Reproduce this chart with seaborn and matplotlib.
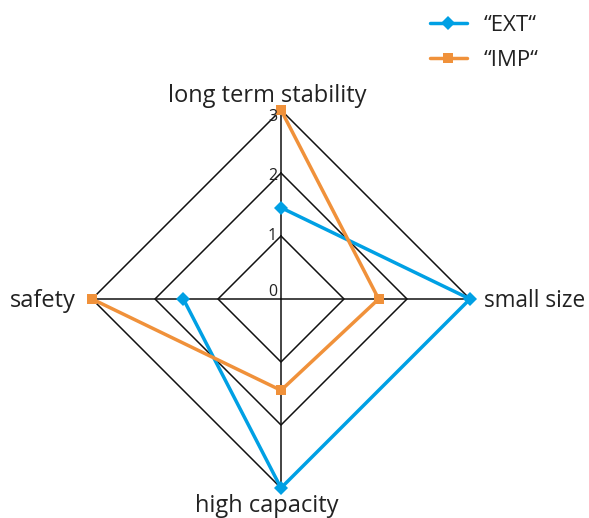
import numpy as np
import pandas as pd
import matplotlib
matplotlib.use("Agg")
import matplotlib.pyplot as plt
import matplotlib.transforms as mtransforms
from matplotlib.lines import Line2D
import seaborn as sns

categories = ["long term stability", "small size", "high capacity", "safety"]
ext_values = [1.45, 3.0, 3.0, 1.55]
imp_values = [3.0, 1.55, 1.45, 3.0]
series_names = ["\u201cEXT\u201c", "\u201cIMP\u201c"]
levels = [0, 1, 2, 3]

sns.set_theme(style="white")
plt.rcParams["font.family"] = ["Open Sans", "DejaVu Sans"]

fig = plt.figure(figsize=(5.89, 5.18), dpi=100)
ax = fig.add_axes([92/589, 30/518, 378/589, 378/518], projection="polar")
ax.set_theta_zero_location("N")
ax.set_theta_direction(-1)
ax.set_ylim(0, 3)
ax.grid(False)
ax.set_xticks([])
ax.set_yticks([])
ax.spines["polar"].set_visible(False)
ax.set_facecolor("none")

n = len(categories)
angles = np.arange(n) * 2 * np.pi / n
closed_angles = np.append(angles, angles[0])

# diamond grid
for lv in levels[1:]:
    ax.plot(closed_angles, [lv] * (n + 1), color="#111111", lw=1.1, zorder=1)
for a in angles:
    ax.plot([a, a], [0, levels[-1]], color="#111111", lw=1.1, zorder=1)

rows = []
for name, vals in zip(series_names, [ext_values, imp_values]):
    vv = list(vals) + [vals[0]]
    for i, (a, v) in enumerate(zip(closed_angles, vv)):
        rows.append({"series": name, "angle": a, "value": v, "order": i})
df = pd.DataFrame(rows)

colors = {series_names[0]: "#00a0e4", series_names[1]: "#f0913a"}
markers = {series_names[0]: "D", series_names[1]: "s"}
msize = {series_names[0]: 7.5, series_names[1]: 7}
for name in series_names:
    sub = df[df["series"] == name]
    sns.lineplot(data=sub, x="angle", y="value", sort=False, ax=ax,
                 color=colors[name], lw=2.5, marker=markers[name],
                 markersize=msize[name], markeredgewidth=0,
                 clip_on=False, zorder=3, legend=False)

# radial tick labels
for lv, dy in zip(levels, [7, 0, -3, -7]):
    tr = ax.transData + mtransforms.ScaledTranslation(-4/100, dy/100, fig.dpi_scale_trans)
    ax.text(0, lv, str(lv), transform=tr, ha="right", va="center",
            fontsize=11.5, color="#222222")

# category labels
label_specs = [
    (0, "center", "baseline", -14, 8, 17),
    (1, "left", "baseline", 14, -8, 16.3),
    (2, "center", "baseline", -14, -24, 17),
    (3, "right", "baseline", -16, -8, 17),
]
for idx, ha, va, dx, dy, fs in label_specs:
    tr = ax.transData + mtransforms.ScaledTranslation(dx/100, dy/100, fig.dpi_scale_trans)
    ax.text(angles[idx], levels[-1], categories[idx], transform=tr, ha=ha, va=va,
            fontsize=fs, color="#222222")

handles = [Line2D([], [], color=colors[nm], lw=2.5, marker=markers[nm],
                  markersize=msize[nm], markeredgewidth=0) for nm in series_names]
leg = fig.legend(handles, series_names, loc="upper left", bbox_to_anchor=(410/589, 1 + 5/518),
                 frameon=False, fontsize=16, handlelength=1.65, labelspacing=0.62,
                 handletextpad=0.75, labelcolor="#222222")

fig.savefig("out.png", dpi=100)
